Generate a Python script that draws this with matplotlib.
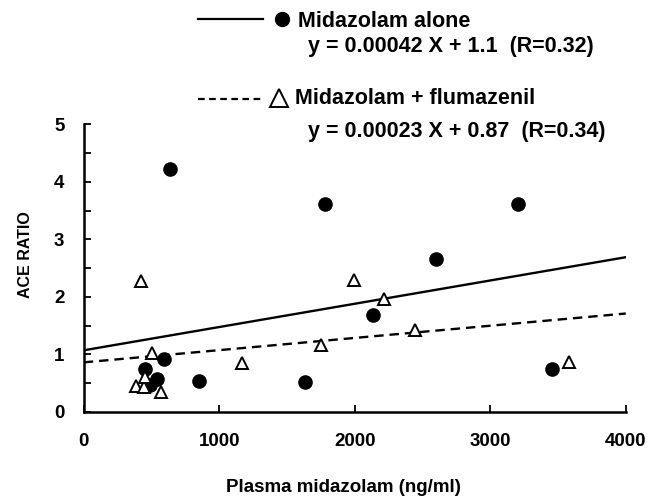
import numpy as np
import matplotlib.pyplot as plt
from matplotlib.lines import Line2D

plt.rcParams['font.family'] = ['Liberation Sans', 'DejaVu Sans']
plt.rcParams['font.weight'] = 'bold'

# Midazolam alone (filled circles)
alone_x = [635, 1781, 2135, 590, 455, 541, 492, 851, 1631, 3206, 2596, 3456]
alone_y = [4.23, 3.62, 1.68, 0.91, 0.74, 0.575, 0.465, 0.53, 0.52, 3.61, 2.66, 0.75]

# Midazolam + flumazenil (open triangles)
fluma_x = [425, 1993, 507, 1166, 1751, 384, 443, 571, 450, 2219, 2448, 3582]
fluma_y = [2.28, 2.29, 1.02, 0.85, 1.16, 0.45, 0.43, 0.34, 0.60, 1.96, 1.42, 0.86]

# regression lines as drawn (end points)
fit_x = [0, 4000]
fit_alone = [1.07, 2.69]
fit_fluma = [0.86, 1.71]

eq_alone = "y = 0.00042 X + 1.1  (R=0.32)"
eq_fluma = "y = 0.00023 X + 0.87  (R=0.34)"

fig = plt.figure(figsize=(6.65, 5.04), dpi=100)
ax = fig.add_axes([0.126, 0.183, 0.815, 0.570])

ax.plot(fit_x, fit_alone, '-', color='black', lw=1.7)
ax.plot(fit_x, fit_fluma, '--', color='black', lw=1.7, dashes=(4, 2.5))
ax.plot(alone_x, alone_y, 'o', color='black', markersize=9.5, zorder=3)
ax.plot(fluma_x, fluma_y, '^', markerfacecolor='white', markeredgecolor='black',
        markeredgewidth=1.4, markersize=8, zorder=4)

ax.set_xlim(0, 4000)
ax.set_ylim(0, 5)
ax.set_xticks([0, 1000, 2000, 3000, 4000])
ax.set_yticks([0, 1, 2, 3, 4, 5])
ax.set_yticks(np.arange(0, 5.01, 0.5), minor=True)
for s in ['top', 'right']:
    ax.spines[s].set_visible(False)
for s in ['left', 'bottom']:
    ax.spines[s].set_linewidth(1.8)
ax.tick_params(axis='both', which='both', direction='in', width=1.3, labelsize=13.5)
ax.tick_params(axis='both', which='major', length=5)
ax.tick_params(axis='y', which='minor', length=5)
ax.tick_params(axis='x', pad=15)
ax.tick_params(axis='y', pad=14)

fig.text(0.517, 0.032, "Plasma midazolam (ng/ml)", ha='center', va='center', fontsize=13.5)
fig.text(0.038, 0.494, "ACE RATIO", ha='center', va='center', rotation=90, fontsize=11.5)

# legend drawn by hand, above the axes
fig.add_artist(Line2D([0.298, 0.395], [0.962, 0.962], color='black', lw=1.6))
fig.add_artist(Line2D([0.424], [0.962], marker='o', color='black', markersize=10))
fig.text(0.448, 0.958, "Midazolam alone", ha='left', va='center', fontsize=15.5)
fig.text(0.463, 0.907, eq_alone, ha='left', va='center', fontsize=15.5)

fig.add_artist(Line2D([0.298, 0.395], [0.804, 0.804], color='black', lw=1.6,
                      linestyle='--', dashes=(3, 2)))
fig.add_artist(Line2D([0.419], [0.806], marker='^', color='black', markerfacecolor='white',
                      markeredgewidth=1.4, markersize=13))
fig.text(0.444, 0.804, "Midazolam + flumazenil", ha='left', va='center', fontsize=15.5)
fig.text(0.463, 0.740, eq_fluma, ha='left', va='center', fontsize=15.5)

fig.savefig('out.png', dpi=100)
